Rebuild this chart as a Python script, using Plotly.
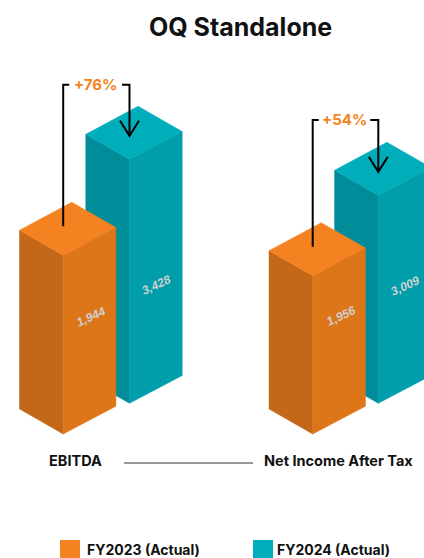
import plotly.graph_objects as go

# Chart values
categories = ["EBITDA", "Net Income After Tax"]
series_names = ["FY2023 (Actual)", "FY2024 (Actual)"]
fy2023 = [1944, 1956]
fy2024 = [3428, 3009]
growth_labels = ["+76%", "+54%"]
value_labels = [["1,944", "3,428"], ["1,956", "3,009"]]

W, H = 424, 558
FONT = "Inter, Liberation Sans, sans-serif"

# Isometric drawing setup, in pixels
BASE_PX = [434.0, 403.3]          # front-bottom corner per series
FRONT_X = [[63.2, 129.5], [312.7, 378.3]]
LEFT = (-43.7, -25.0)
BACK = (8.6, -53.0)
RIGHT = (52.7, -27.7)

# Each category has its own truncated value axis: pixels = offset + slope * value
AXIS_SCALE = [(93.2, 0.0440), (66.0, 0.0472)]

COLORS = [
    {"top": "#F58220", "right": "#DD7519", "left": "#C26818"},
    {"top": "#00AEBB", "right": "#009DAB", "left": "#008C98"},
]


def axis_range(group):
    off, slope = AXIS_SCALE[group]
    return [(BASE_PX[0] - off - H) / slope, (BASE_PX[0] - off) / slope]


def shift(group, px):
    """Convert a pixel offset (down positive) to units of the category's value axis."""
    return -px / AXIS_SCALE[group][1]


def top_px(group, series, value):
    off, slope = AXIS_SCALE[group]
    return BASE_PX[series] - off - slope * value


fig = go.Figure()


def face(xs, ys, color, yaxis):
    fig.add_trace(go.Scatter(
        x=xs, y=ys, mode="lines", fill="toself", fillcolor=color,
        line=dict(color=color, width=0.5), yaxis=yaxis,
        hoverinfo="skip", showlegend=False,
    ))


def bar(group, series, value):
    yaxis = "y" if group == 0 else "y2"
    x0 = FRONT_X[group][series]
    c = COLORS[series]
    # rear series stands further back, so its block is lifted on the shared axis
    front = value + shift(group, BASE_PX[series] - BASE_PX[0])
    ground = front + shift(group, BASE_PX[series] - top_px(group, series, value))
    top = [front, front + shift(group, LEFT[1]), front + shift(group, BACK[1]), front + shift(group, RIGHT[1])]
    face([x0 + LEFT[0], x0, x0, x0 + LEFT[0], x0 + LEFT[0]],
         [top[1], top[0], ground, ground + shift(group, LEFT[1]), top[1]], c["left"], yaxis)
    face([x0, x0 + RIGHT[0], x0 + RIGHT[0], x0, x0],
         [top[0], top[3], ground + shift(group, RIGHT[1]), ground, top[0]], c["right"], yaxis)
    face([x0, x0 + LEFT[0], x0 + BACK[0], x0 + RIGHT[0], x0],
         top + [top[0]], c["top"], yaxis)


for g in range(2):
    bar(g, 1, fy2024[g])
    bar(g, 0, fy2023[g])


def px_line(xs, ys, color="#000000", width=2):
    fig.add_trace(go.Scatter(
        x=xs, y=ys, mode="lines", yaxis="y3",
        line=dict(color=color, width=width),
        hoverinfo="skip", showlegend=False,
    ))


# Growth brackets running from the FY2023 block down into the FY2024 block
BRACKET_TOP = [84.7, 120.0]
BRACKET_GAP = [(6, 7.5), (6, 8)]
LABEL_X = [95.5, 344.3]
for g in range(2):
    xa, xb = FRONT_X[g]
    start = top_px(g, 0, fy2023[g]) - 29
    tip = top_px(g, 1, fy2024[g]) - 23.5
    yt = BRACKET_TOP[g]
    px_line([xa, xa, xa + BRACKET_GAP[g][0]], [start, yt, yt])
    px_line([xb - BRACKET_GAP[g][1], xb, xb, xb], [yt, yt, tip, tip])
    px_line([xb - 9.5, xb, xb + 9.5], [tip - 15, tip, tip - 15])
    fig.add_annotation(x=LABEL_X[g], y=yt - 0.5, xref="x", yref="y3", text=f"<b>{growth_labels[g]}</b>",
                       showarrow=False, font=dict(family=FONT, size=15, color="#F58220"))

# Divider between the category names
px_line([124, 253], [463, 463], color="#333333", width=1)

# Value labels sitting on the right-hand faces
LABEL_POS = [[(90.5, 317), (156, 284.5)], [(341, 316), (405, 286)]]
for g in range(2):
    for s in range(2):
        x, y = LABEL_POS[g][s]
        fig.add_annotation(x=x, y=y, xref="x", yref="y3", text=f"<b><i>{value_labels[g][s]}</i></b>",
                           textangle=-25, showarrow=False,
                           font=dict(family="Liberation Sans, sans-serif", size=12, color="#CFCFCF"))

# Category names
for x, name in zip([75, 338.5], categories):
    fig.add_annotation(x=x, y=460.5, xref="x", yref="y3", text=f"<b>{name}</b>", showarrow=False,
                       font=dict(family=FONT, size=14.5, color="#111111"))

# Title
fig.add_annotation(x=240.5, y=26.5, xref="x", yref="y3", text="<b>OQ Standalone</b>", showarrow=False,
                   font=dict(family=FONT, size=25, color="#111111"))

# Hand-placed legend
shapes = []
for sx, tx, name, c in zip([60, 253], [143.5, 333.5], series_names, COLORS):
    shapes.append(dict(type="rect", xref="x", yref="y3", x0=sx, x1=sx + 20, y0=540, y1=558,
                       fillcolor=c["top"], line=dict(width=0), layer="above"))
    fig.add_annotation(x=tx, y=549.5, xref="x", yref="y3", text=f"<b>{name}</b>", showarrow=False,
                       font=dict(family=FONT, size=14, color="#111111"))

hidden = dict(visible=False, fixedrange=True)
fig.update_layout(
    width=W, height=H,
    margin=dict(l=0, r=0, t=0, b=0),
    paper_bgcolor="#FFFFFF", plot_bgcolor="#FFFFFF",
    shapes=shapes,
    showlegend=False,
    xaxis=dict(range=[0, W], domain=[0, 1], **hidden),
    yaxis=dict(range=axis_range(0), domain=[0, 1], **hidden),
    yaxis2=dict(range=axis_range(1), overlaying="y", **hidden),
    yaxis3=dict(range=[H, 0], overlaying="y", **hidden),
)

fig.write_html("out.html", config={"displayModeBar": False})
